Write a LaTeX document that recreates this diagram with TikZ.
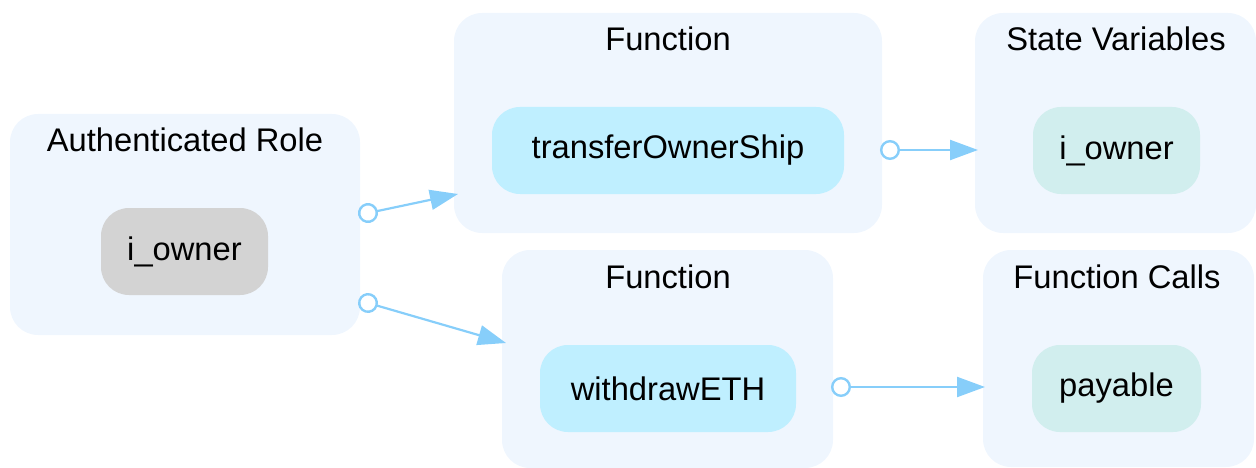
\documentclass[tikz,border=0pt]{standalone}
\usepackage{fontspec}
\setmainfont{Liberation Sans}
\usetikzlibrary{arrows.meta}
\definecolor{clfill}{HTML}{EFF6FE}
\definecolor{fnfill}{HTML}{BFEFFF}
\definecolor{svfill}{HTML}{D1EEEE}
\definecolor{rolefill}{HTML}{D3D3D3}
\definecolor{edgecol}{HTML}{87CEFA}
\tikzset{
  cluster/.style={fill=clfill, draw=none, rounded corners=28pt, inner sep=0pt},
  item/.style={draw=none, rounded corners=28pt, inner sep=0pt, minimum height=87pt, font=\fontsize{32.7}{39}\selectfont},
  ctitle/.style={inner sep=0pt, font=\fontsize{32.7}{39}\selectfont},
  conn/.style={draw=edgecol, line width=2.2pt, {Circle[open, length=20pt, width=20pt, line width=2.4pt]}-{Triangle[length=28pt, width=20pt]}}
}
\begin{document}
\begin{tikzpicture}[x=1pt,y=-1pt]
\useasboundingbox (0,0) rectangle (1256,468);
% clusters
\node[cluster, minimum width=350pt, minimum height=221pt] (auth) at (185,224.5) {};
\node[cluster, minimum width=428pt, minimum height=220pt] (fn1) at (668,123) {};
\node[cluster, minimum width=281pt, minimum height=220pt] (sv) at (1115.5,123) {};
\node[cluster, minimum width=331pt, minimum height=218pt] (fn2) at (667.5,359) {};
\node[cluster, minimum width=271pt, minimum height=217pt] (fc) at (1118.5,358.5) {};
% titles
\node[ctitle] (authT) at (185,140) {Authenticated Role};
\node[ctitle] (fn1T) at (668,39) {Function};
\node[ctitle] (svT) at (1116,39) {State Variables};
\node[ctitle] (fn2T) at (668,277) {Function};
\node[ctitle] (fcT) at (1117,277) {Function Calls};
% items
\node[item, fill=rolefill, minimum width=167pt] (role) at (184.5,251.5) {i\_owner};
\node[item, fill=fnfill, minimum width=352pt] (tos) at (668,150.5) {transferOwnerShip};
\node[item, fill=svfill, minimum width=167pt] (svo) at (1116.5,150.5) {i\_owner};
\node[item, fill=fnfill, minimum width=256pt] (weth) at (668,388.5) {withdrawETH};
\node[item, fill=svfill, minimum width=169pt] (pay) at (1116.5,388.5) {payable};
% connector ends
\coordinate (a1) at (358.2,215.1);
\coordinate (b1) at (458,194);
\coordinate (a2) at (358.4,300.2);
\coordinate (b2) at (506,343);
\coordinate (a3) at (880,150);
\coordinate (b3) at (978,150);
\coordinate (a4) at (831,387);
\coordinate (b4) at (985,387);
\draw[conn] (a1) -- (b1);
\draw[conn] (a2) -- (b2);
\draw[conn] (a3) -- (b3);
\draw[conn] (a4) -- (b4);
\end{tikzpicture}
\end{document}
